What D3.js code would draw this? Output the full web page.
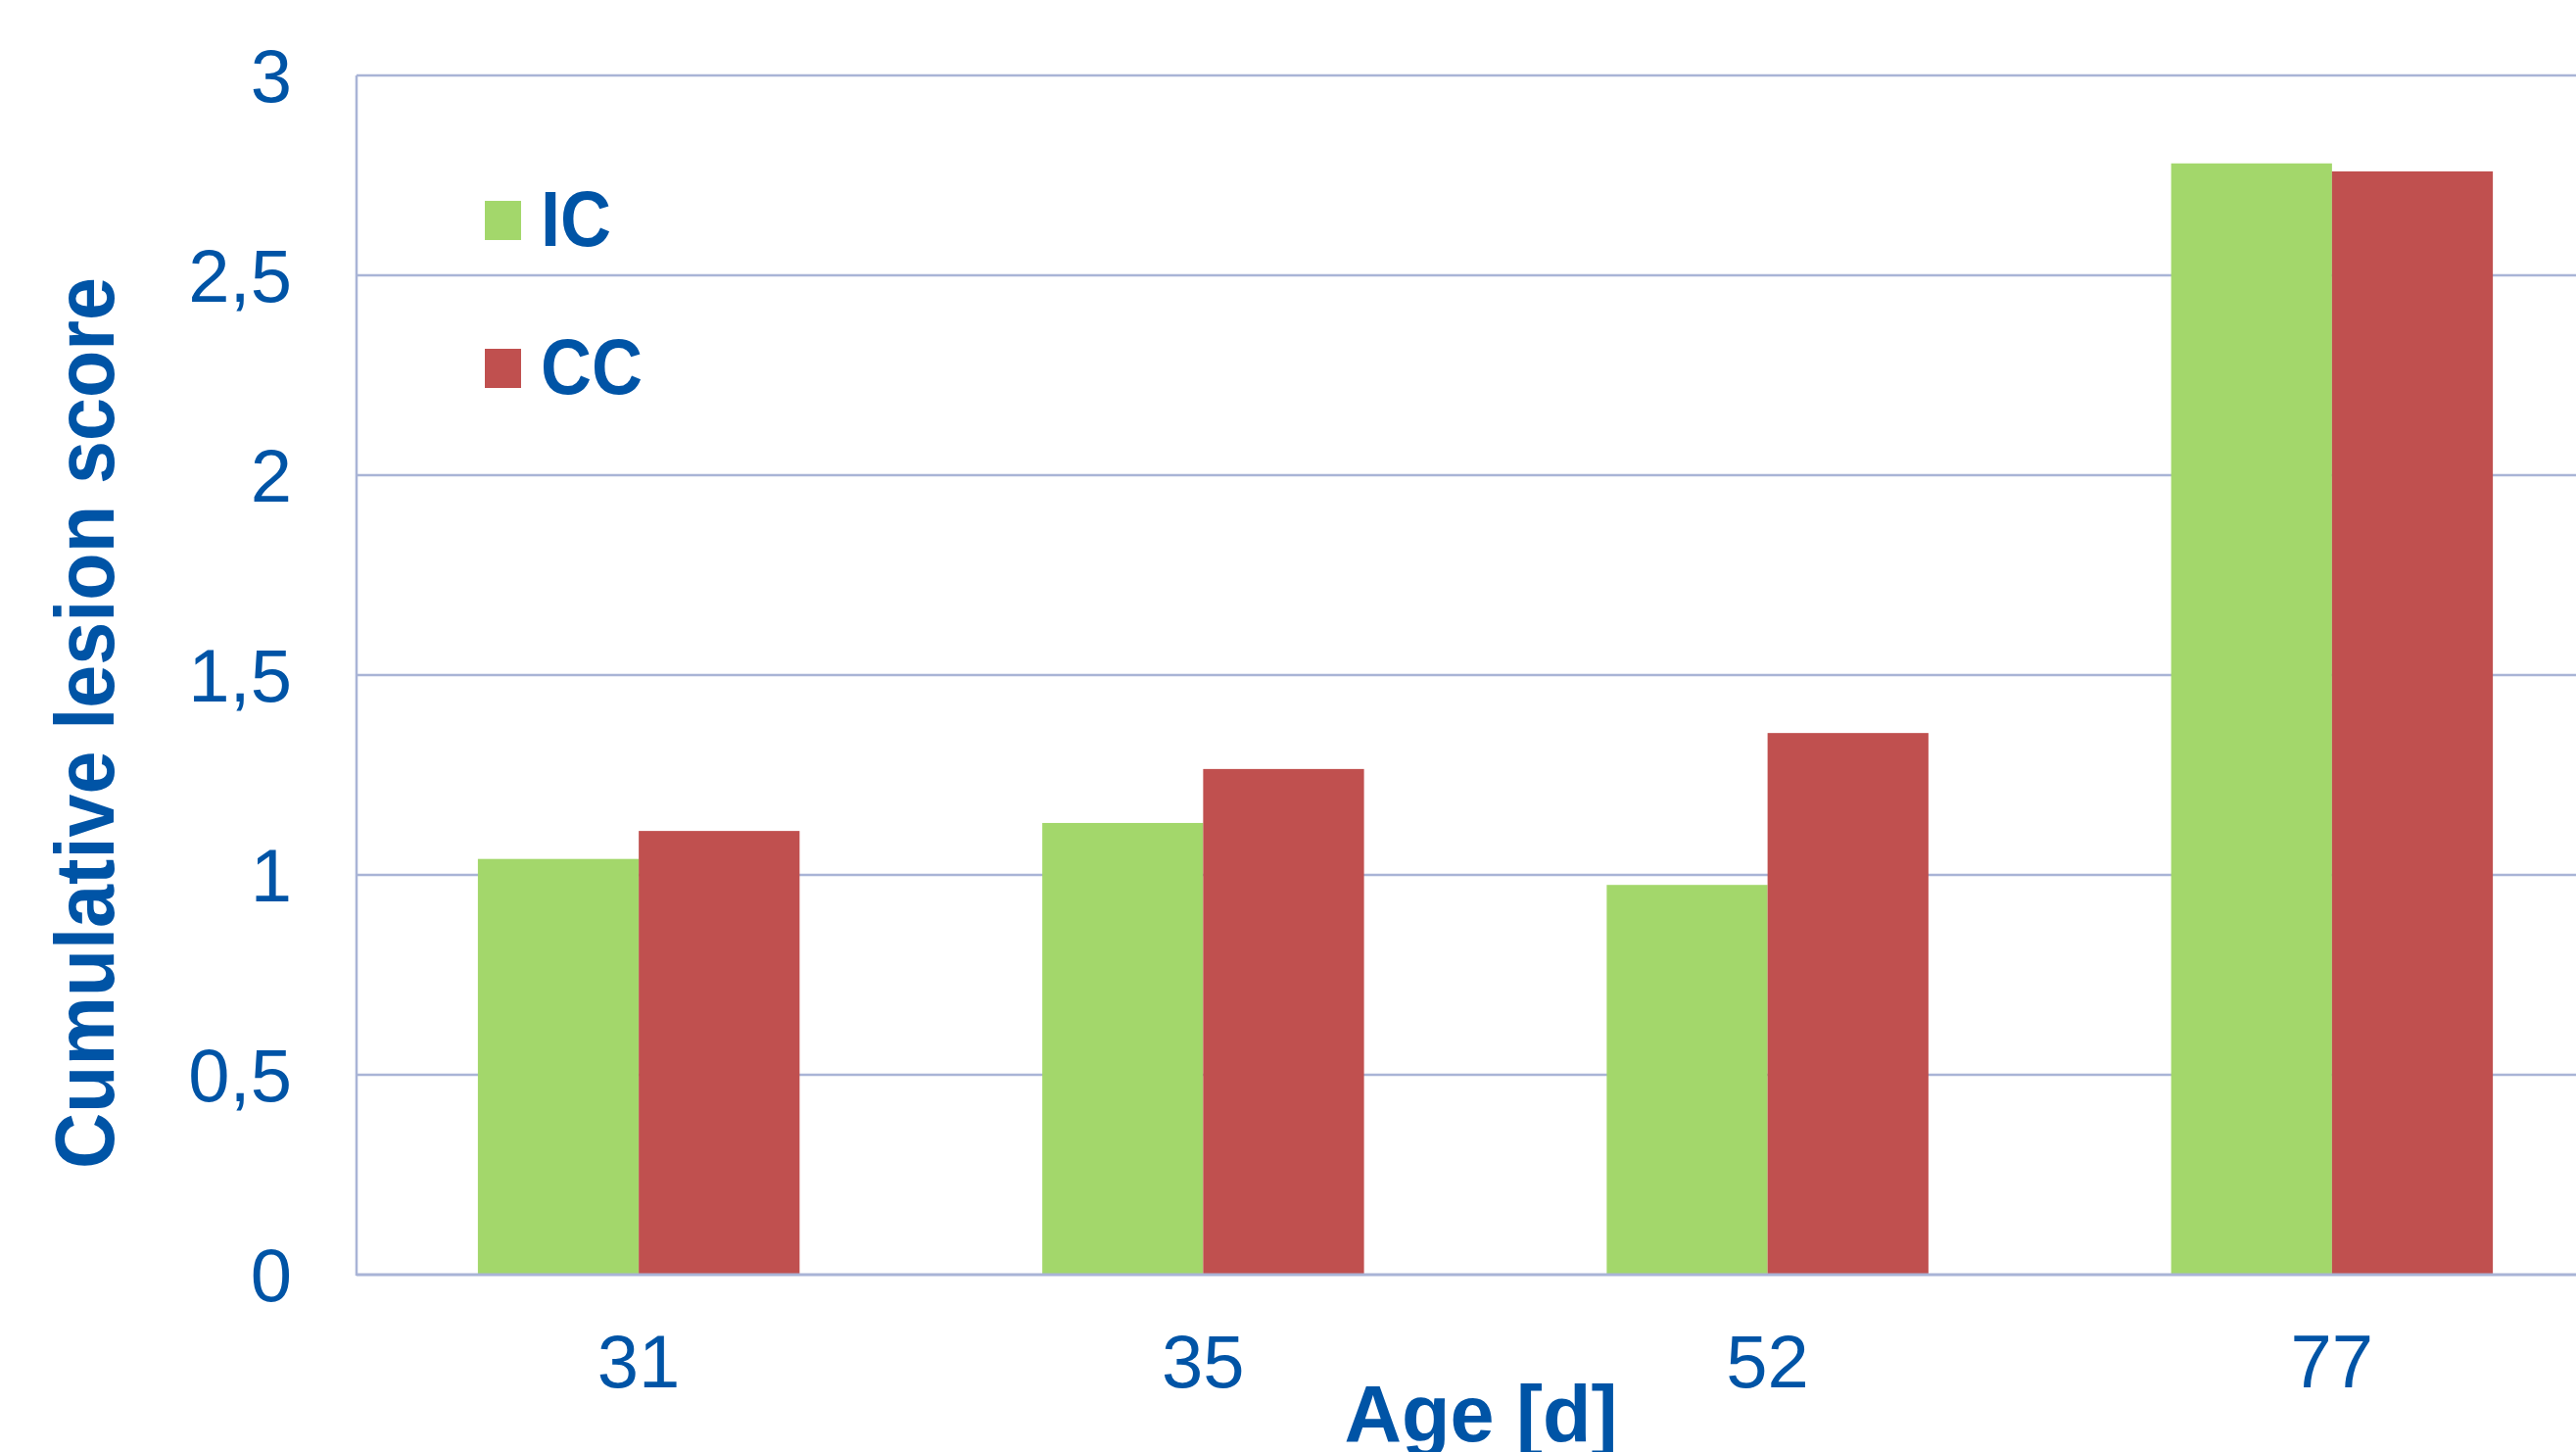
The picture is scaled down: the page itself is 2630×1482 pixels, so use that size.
<!DOCTYPE html>
<html>
<head>
<meta charset="utf-8">
<script src="https://cdn.jsdelivr.net/npm/d3@7"></script>
<style>
  html, body { margin: 0; padding: 0; background: #ffffff; }
  svg { display: block; }
  text { font-family: "Liberation Sans", Arial, sans-serif; }
</style>
</head>
<body>
<svg id="chart" width="2630" height="1482"></svg>
<script>
// Age groups (days) on the x axis
const ages = ["31", "35", "52", "77"];
// Series names and values
const seriesNames = ["IC", "CC"];
const icValues = [1.04, 1.13, 0.975, 2.78];
const ccValues = [1.11, 1.265, 1.355, 2.76];
// Y tick values and their labels (decimal comma)
const yTickValues = [0, 0.5, 1, 1.5, 2, 2.5, 3];
const yTickLabels = ["0", "0,5", "1", "1,5", "2", "2,5", "3"];

const colors = { IC: "#A3D76B", CC: "#C0504F" };
const textBlue = "#0054A6";
const gridColor = "#A9B4D6";

const svg = d3.select("#chart");

const plot = { left: 364, right: 2669, top: 77, bottom: 1301 };

const x = d3.scaleBand()
  .domain(ages)
  .range([plot.left, plot.right])
  .paddingInner(0.43)
  .paddingOuter(0.215);

const xSub = d3.scaleBand()
  .domain(seriesNames)
  .range([0, x.bandwidth()]);

const y = d3.scaleLinear()
  .domain([0, 3])
  .range([plot.bottom, plot.top]);

// Horizontal gridlines
svg.append("g")
  .selectAll("line")
  .data(yTickValues.filter(v => v > 0))
  .join("line")
  .attr("x1", plot.left)
  .attr("x2", 2630)
  .attr("y1", d => y(d))
  .attr("y2", d => y(d))
  .attr("stroke", gridColor)
  .attr("stroke-width", 2.5);

// Bars
const rows = ages.map((a, i) => ({ age: a, IC: icValues[i], CC: ccValues[i] }));
const groups = svg.append("g")
  .selectAll("g")
  .data(rows)
  .join("g")
  .attr("transform", d => `translate(${x(d.age)},0)`);

groups.selectAll("rect")
  .data(d => seriesNames.map(s => ({ key: s, value: d[s] })))
  .join("rect")
  .attr("x", d => xSub(d.key))
  .attr("width", xSub.bandwidth())
  .attr("y", d => y(d.value))
  .attr("height", d => y(0) - y(d.value))
  .attr("fill", d => colors[d.key]);

// Axis lines
svg.append("line")
  .attr("x1", plot.left).attr("x2", plot.left)
  .attr("y1", plot.top).attr("y2", plot.bottom + 1)
  .attr("stroke", gridColor).attr("stroke-width", 2.5);
svg.append("line")
  .attr("x1", plot.left).attr("x2", 2630)
  .attr("y1", plot.bottom).attr("y2", plot.bottom)
  .attr("stroke", gridColor).attr("stroke-width", 3);

// Y tick labels
svg.append("g")
  .selectAll("text")
  .data(yTickValues)
  .join("text")
  .attr("x", 298)
  .attr("y", d => y(d))
  .attr("dy", "0.35em")
  .attr("text-anchor", "end")
  .attr("font-size", 76)
  .attr("fill", textBlue)
  .text((d, i) => yTickLabels[i]);

// X tick labels
svg.append("g")
  .selectAll("text")
  .data(ages)
  .join("text")
  .attr("x", d => x(d) + x.bandwidth() / 2)
  .attr("y", 1416)
  .attr("text-anchor", "middle")
  .attr("font-size", 76)
  .attr("fill", textBlue)
  .text(d => d);

// Axis titles
svg.append("text")
  .attr("x", 1512)
  .attr("y", 1471)
  .attr("text-anchor", "middle")
  .attr("font-size", 81)
  .attr("font-weight", "bold")
  .attr("fill", textBlue)
  .text("Age [d]");

svg.append("text")
  .attr("transform", `translate(116,738) rotate(-90) scale(0.92,1)`)
  .attr("text-anchor", "middle")
  .attr("font-size", 86)
  .attr("font-weight", "bold")
  .attr("fill", textBlue)
  .text("Cumulative lesion score");

// Legend
const legend = svg.append("g")
  .selectAll("g")
  .data(seriesNames)
  .join("g")
  .attr("transform", (d, i) => `translate(495,${205 + i * 151})`);

legend.append("rect")
  .attr("width", 37)
  .attr("height", 40)
  .attr("fill", d => colors[d]);

legend.append("text")
  .attr("transform", "translate(57,46) scale(0.9,1)")
  .attr("font-size", 80)
  .attr("font-weight", "bold")
  .attr("fill", textBlue)
  .text(d => d);
</script>
</body>
</html>
